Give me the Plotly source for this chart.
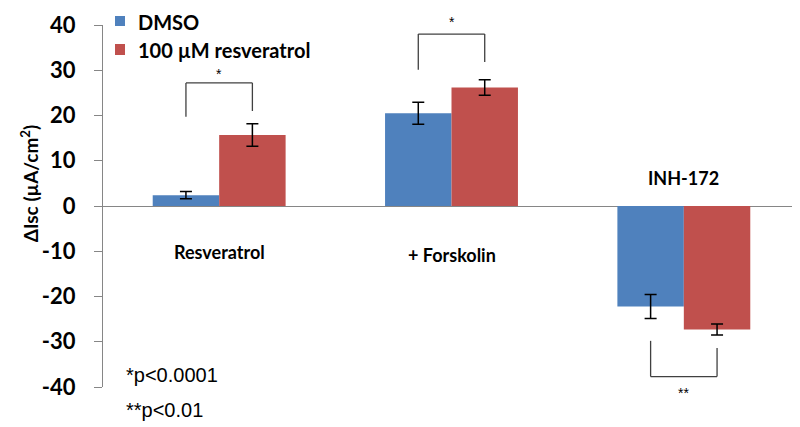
import plotly.graph_objects as go

categories = ["Resveratrol", "+ Forskolin", "INH-172"]
series_names = ["DMSO", "100 µM resveratrol"]
series_colors = ["#4F81BD", "#C0504D"]
dmso_values = [2.4, 20.5, -22.2]
dmso_errors = [0.8, 2.45, 2.65]
resv_values = [15.7, 26.2, -27.3]
resv_errors = [2.5, 1.7, 1.2]
y_ticks = [40, 30, 20, 10, 0, -10, -20, -30, -40]

# significance brackets: (group index, top/bottom y, left end, right end, label, label y)
brackets = [
    (0, 27.2, 19.7, 21.0, "*", 29.2),
    (1, 38.0, 30.1, 31.8, "*", 40.6),
    (2, -37.7, -29.8, -31.4, "**", -41.4),
]
label_pos = [-10.1, -10.8, 6.2]

YMIN, YMAX = -40, 40


def to_paper(v):
    return (v - YMIN) / (YMAX - YMIN)


x_idx = list(range(len(categories)))
off = 0.143

fig = go.Figure()
for name, color, vals, errs in zip(series_names, series_colors,
                                   [dmso_values, resv_values], [dmso_errors, resv_errors]):
    fig.add_trace(go.Bar(
        x=x_idx, y=vals, name=name, showlegend=False,
        marker=dict(color=color, line=dict(width=0)),
        error_y=dict(type="data", array=errs, color="black", thickness=1.5, width=6),
    ))

shapes = []
annotations = []
for g, ymid, yl, yr, lab, ly in brackets:
    xl, xr = g - off, g + off
    shapes.append(dict(type="line", x0=xl, x1=xl, y0=yl, y1=ymid, xref="x", yref="y",
                       line=dict(color="#404040", width=1.3)))
    shapes.append(dict(type="line", x0=xl, x1=xr, y0=ymid, y1=ymid, xref="x", yref="y",
                       line=dict(color="#404040", width=1.3)))
    shapes.append(dict(type="line", x0=xr, x1=xr, y0=ymid, y1=yr, xref="x", yref="y",
                       line=dict(color="#404040", width=1.3)))
    annotations.append(dict(x=g, y=to_paper(ly), xref="x", yref="paper", text=lab,
                            showarrow=False, xanchor="center", yanchor="middle",
                            font=dict(family="Liberation Sans", size=14, color="black")))

for g, (cat, ly) in enumerate(zip(categories, label_pos)):
    annotations.append(dict(x=g, y=ly, xref="x", yref="y", text="<b>" + cat + "</b>",
                            showarrow=False, xanchor="center", yanchor="middle",
                            font=dict(family="Lato", size=18, color="black")))

annotations.append(dict(x=0.03, y=to_paper(-37.3), xref="paper", yref="paper",
                        text="*p&lt;0.0001", showarrow=False, xanchor="left", yanchor="middle",
                        font=dict(family="Liberation Sans", size=20, color="black")))
annotations.append(dict(x=0.03, y=to_paper(-45.1), xref="paper", yref="paper",
                        text="**p&lt;0.01", showarrow=False, xanchor="left", yanchor="middle",
                        font=dict(family="Liberation Sans", size=20, color="black")))

annotations.append(dict(x=-0.105, y=0.562, xref="paper", yref="paper",
                        text="<b>ΔIsc (µA/cm<sup>2</sup>)</b>", textangle=-90,
                        showarrow=False, xanchor="center", yanchor="middle",
                        font=dict(family="Lato", size=19, color="black")))

# legend (squares + labels) placed above the plot area
legend_sq = [(0.9972, 1.0249), (0.9171, 0.9475)]
legend_txt_y = [1.0083, 0.9309]
for name, color, (y0, y1), ty in zip(series_names, series_colors, legend_sq, legend_txt_y):
    shapes.append(dict(type="rect", xref="paper", yref="paper", x0=0.0172, x1=0.0316,
                       y0=y0, y1=y1, fillcolor=color, line=dict(width=0)))
    annotations.append(dict(x=0.0473, y=ty, xref="paper", yref="paper",
                            text="<b>" + name + "</b>", showarrow=False,
                            xanchor="left", yanchor="middle",
                            font=dict(family="Lato", size=20, color="black")))

fig.update_layout(
    width=800, height=427,
    margin=dict(l=95, r=8, t=17, b=48, autoexpand=False),
    paper_bgcolor="white", plot_bgcolor="white",
    barmode="group", bargap=0.428, bargroupgap=0,
    showlegend=False,
    xaxis=dict(range=[-0.5, 2.5], showticklabels=False, showgrid=False, zeroline=False,
               showline=False, ticks=""),
    yaxis=dict(range=[YMIN, YMAX], tickvals=y_ticks,
               ticktext=["<b>" + str(v) + "</b>" for v in y_ticks],
               showgrid=False, zeroline=True, zerolinecolor="#868686", zerolinewidth=1,
               showline=True, linecolor="#868686", linewidth=1,
               ticks="outside", ticklen=8, tickcolor="#868686",
               ticklabelstandoff=14,
               tickfont=dict(family="Lato", size=22, color="black")),
    shapes=shapes,
    annotations=annotations,
)

fig.write_html("out.html")
